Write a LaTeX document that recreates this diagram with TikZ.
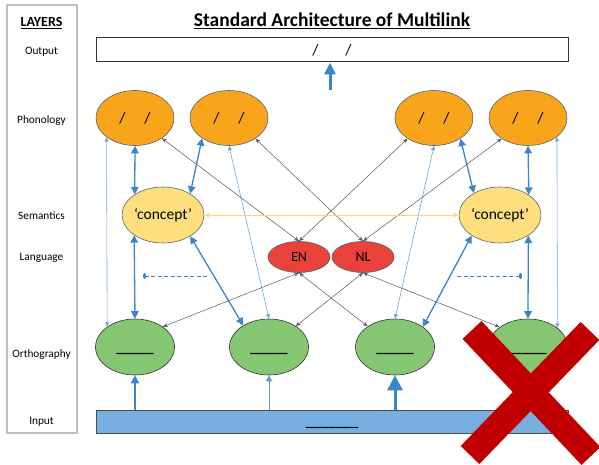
\documentclass[tikz,border=0pt]{standalone}
\usepackage{fontspec}
\setmainfont{Carlito}
\usetikzlibrary{shapes.geometric,arrows.meta,calc}

\definecolor{phonfill}{HTML}{F8A51B}
\definecolor{semfill}{HTML}{FFDF7D}
\definecolor{langfill}{HTML}{E8433A}
\definecolor{orthfill}{HTML}{85C672}
\definecolor{inputfill}{HTML}{78AFE0}
\definecolor{shapeline}{HTML}{5A6470}
\definecolor{linkblue}{HTML}{3C86C8}
\definecolor{lightblue}{HTML}{6FA8DC}
\definecolor{linkgray}{HTML}{595959}
\definecolor{linkyellow}{HTML}{FFD966}
\definecolor{crossred}{HTML}{C00000}
\definecolor{framegray}{HTML}{BFBFBF}

\begin{document}
\begin{tikzpicture}[x=1pt,y=-1pt,
  oval/.style={ellipse,draw=shapeline,line width=0.6pt,inner sep=0pt},
  phon/.style={oval,fill=phonfill,minimum width=78pt,minimum height=55pt,
    font=\fontsize{16}{18}\selectfont},
  sem/.style={oval,fill=semfill,minimum width=79pt,minimum height=56pt,
    font=\fontsize{15.5}{18}\selectfont},
  lang/.style={oval,fill=langfill,minimum width=62pt,minimum height=31pt,
    font=\fontsize{14}{16}\selectfont},
  orth/.style={oval,fill=orthfill,draw=black!80,minimum width=79pt,minimum height=56pt,
    font=\fontsize{15}{18}\selectfont\bfseries},
  layerlbl/.style={anchor=base,font=\fontsize{11.3}{13}\selectfont},
  bluearrow/.style={draw=linkblue,line width=1.3pt,
    {Triangle[length=7.5pt,width=7.5pt]}-{Triangle[length=7.5pt,width=7.5pt]}},
  thinblue/.style={draw=lightblue,line width=0.6pt,
    {Triangle[length=4.5pt,width=4pt]}-{Triangle[length=4.5pt,width=4pt]}},
  grayarrow/.style={draw=linkgray,line width=0.5pt,
    {Stealth[length=5pt,width=4pt]}-{Stealth[length=5pt,width=4pt]}},
  yellowarrow/.style={draw=linkyellow,line width=0.8pt,
    {Triangle[length=5pt,width=4pt]}-{Triangle[length=5pt,width=4pt]}},
  dasharrow/.style={draw=linkblue,line width=0.8pt,dash pattern=on 4pt off 2.5pt,
    -{Ellipse[length=3pt,width=6pt]}},
  feedmid/.style={draw=linkblue,line width=1.6pt,-{Triangle[length=8pt,width=8pt]}},
  feedthin/.style={draw=linkblue!85,line width=0.9pt,-{Triangle[length=6pt,width=6pt]}},
  feedthick/.style={draw=linkblue,line width=3pt,-{Triangle[length=15pt,width=15pt]}},
  outarrow/.style={draw=linkblue,line width=3pt,-{Triangle[length=12pt,width=11pt]}}
]
\useasboundingbox (0,0) rectangle (599,465);

% layer column
\node[draw=framegray,line width=1.2pt,minimum width=70pt,minimum height=428pt,inner sep=0pt]
  (layers) at (42,219) {};
\node[anchor=base,font=\fontsize{14}{16}\selectfont\bfseries] (lLayers) at (41.5,27) {\underline{LAYERS}};
\node[layerlbl] (lOut) at (41.5,55) {Output};
\node[layerlbl] (lPhon) at (41.5,123.5) {Phonology};
\node[layerlbl] (lSem) at (41.5,219) {Semantics};
\node[layerlbl] (lLang) at (41.5,260) {Language};
\node[layerlbl] (lOrth) at (41.5,357) {Orthography};
\node[layerlbl] (lIn) at (41.5,424) {Input};

% title
\node[anchor=base,font=\fontsize{19.5}{22}\selectfont\bfseries] (title) at (332,27)
  {\underline{Standard Architecture of Multilink}};

% output and input bars
\node[draw=black!80,line width=1pt,fill=white,minimum width=472pt,minimum height=24pt,
  inner sep=0pt,font=\fontsize{16}{18}\selectfont] (Out) at (332,50) {/\hspace{27pt}/};
\node[draw=black!70,line width=0.8pt,fill=inputfill,minimum width=472pt,minimum height=23pt,
  inner sep=0pt,font=\fontsize{15}{18}\selectfont\bfseries] (In) at (332,421.5)
  {\raisebox{-5pt}[0pt][0pt]{\_\_\_\_\_\_\_}};

% phonology
\node[phon] (P1) at (135,118) {/\hspace{19pt}/};
\node[phon] (P2) at (229,118) {/\hspace{19pt}/};
\node[phon] (P3) at (434,118) {/\hspace{19pt}/};
\node[phon] (P4) at (528,118) {/\hspace{19pt}/};

% semantics
\node[sem] (C1) at (163,215) {‘concept’};
\node[sem] (C2) at (500,215) {‘concept’};

% language nodes
\node[lang] (EN) at (299,257) {EN};
\node[lang] (NL) at (363,257) {NL};

% orthography
\node[orth] (O1) at (135,347) {\raisebox{-5pt}[0pt][0pt]{\_\_\_\_\_}};
\node[orth] (O2) at (269,347) {\raisebox{-5pt}[0pt][0pt]{\_\_\_\_\_}};
\node[orth] (O3) at (395,347) {\raisebox{-5pt}[0pt][0pt]{\_\_\_\_\_}};
\node[orth] (O4) at (528,347) {\raisebox{-5pt}[0pt][0pt]{\_\_\_\_\_}};

% phonology <-> semantics
\draw[bluearrow] (P1.south) -- (C1.144.8);
\draw[bluearrow] (P2.217.2) -- (C1.38.4);
\draw[bluearrow] (P3.322.8) -- (C2.140.6);
\draw[bluearrow] (P4.south) -- (C2.35.2);

% semantics <-> orthography
\draw[bluearrow] (C1.215.2) -- (O1.north);
\draw[bluearrow] (C1.322.5) -- (O2.140.4);
\draw[bluearrow] (C2.216.3) -- (O3.36.3);
\draw[bluearrow] (C2.324.8) -- (O4.north);

% direct orthography <-> phonology links
\draw[thinblue] (P1.214.4) -- (O1.144.8);
\draw[thinblue] (P2.south) -- (O2.north);
\draw[thinblue] (P3.south) -- (O3.north);
\draw[thinblue] (P4.327.6) -- (O4.33.2);

% language node links
\draw[grayarrow] (P1.323.4) -- (EN.north);
\draw[grayarrow] (P3.218.2) -- (EN.north);
\draw[grayarrow] (P2.322.8) -- (NL.north);
\draw[grayarrow] (P4.218.2) -- (NL.north);
\draw[grayarrow] (EN.south) -- (O1.36);
\draw[grayarrow] (EN.south) -- (O3.143.7);
\draw[grayarrow] (NL.south) -- (O2.38.9);
\draw[grayarrow] (NL.south) -- (O4.145.9);

% concept <-> concept
\draw[yellowarrow] (C1.east) -- (C2.west);

% dashed links
\coordinate (dL1) at (207,276);
\coordinate (dL2) at (143,276);
\coordinate (dR1) at (457,276);
\coordinate (dR2) at (522,276);
\draw[dasharrow] (dL1) -- (dL2);
\draw[dasharrow] (dR1) -- (dR2);

% input -> orthography
\draw[feedmid] (O1.south |- In.north) -- (O1.south);
\draw[feedthin] (O2.south |- In.north) -- (O2.south);
\draw[feedthick] (O3.south |- In.north) -- (O3.south);

% phonology -> output
\coordinate (outTail) at (330,90);
\draw[outarrow] (outTail) -- (outTail |- Out.south);

% crossed-out corner
\draw[crossred,line width=26pt] (472,330) -- (591,456);
\draw[crossred,line width=26pt] (590,331) -- (470,455);
\end{tikzpicture}
\end{document}
